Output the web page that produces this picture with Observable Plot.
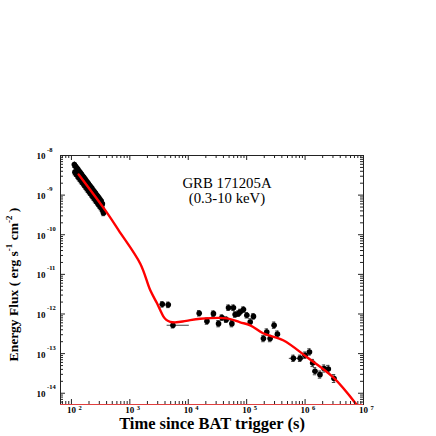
<!DOCTYPE html>
<html><head><meta charset="utf-8">
<script src="https://cdn.jsdelivr.net/npm/d3@7"></script>
<script src="https://cdn.jsdelivr.net/npm/@observablehq/plot@0.6"></script>
<style>body{margin:0;background:#fff}</style>
</head><body><div id="chart"></div>
<script>
// Early (WT) data cluster: time (s), flux (erg s^-1 cm^-2)
const clusterT = [112.2,114.8,117.5,120.2,123.0,125.9,128.8,131.8,134.9,138.0,141.3,144.5,147.9,151.4,154.9,158.5,162.2,166.0,169.8,173.8,177.8,182.0,186.2,190.5,195.0,199.5,204.2,208.9,213.8,218.8,223.9,229.1,234.4,239.9,245.5,251.2,257.0,263.0,269.2,275.4,281.8,288.4,295.1,302.0,309.0,316.2,323.6,331.1,338.8,346.7,354.8,
  125,140,160,185,210,240,270,300,330];
const clusterF = [5.89e-9,3.80e-9,5.37e-9,3.47e-9,4.90e-9,3.16e-9,4.47e-9,2.88e-9,4.07e-9,2.63e-9,3.72e-9,2.40e-9,3.39e-9,2.19e-9,3.09e-9,2.00e-9,2.82e-9,1.82e-9,2.57e-9,1.66e-9,2.34e-9,1.51e-9,2.14e-9,1.38e-9,1.95e-9,1.26e-9,1.78e-9,1.15e-9,1.62e-9,1.05e-9,1.48e-9,9.55e-10,1.35e-9,8.71e-10,1.23e-9,7.94e-10,1.12e-9,7.24e-10,1.02e-9,6.61e-10,9.33e-10,6.03e-10,8.51e-10,5.50e-10,7.76e-10,5.01e-10,7.08e-10,4.57e-10,6.03e-10,3.98e-10,3.55e-10,
  3.8e-9,3.01e-9,2.31e-9,1.73e-9,1.35e-9,1.03e-9,8.2e-10,6.6e-10,5.5e-10];
const clusterYerr = 0.07; // dex

// Late (PC) data
const lateT = [3600,4550,5470,15400,20900,27000,33000,37700,44600,48900,55800,59400,63500,72000,77400,88200,100700,115000,130700,193600,221000,252000,295000,336000,631000,822000,1.0e6,1.19e6,1.35e6,1.48e6,1.8e6,2.11e6,2.5e6,3.13e6];
const lateF = [1.75e-12,1.7e-12,5.2e-13,1.04e-12,6.6e-13,1.02e-12,5.7e-13,8.1e-13,7.2e-13,1.44e-12,5.7e-13,1.44e-12,9.7e-13,1.02e-12,1.12e-12,1.29e-12,9.3e-13,6.3e-13,8.7e-13,2.4e-13,3.5e-13,2.4e-13,5.2e-13,3.1e-13,7.6e-14,7.6e-14,9.1e-14,1.1e-13,5.8e-14,3.6e-14,2.95e-14,4.2e-14,4.1e-14,2.35e-14];
const lateXlo = [0.04,0.04,0.10,0.03,0.03,0.03,0.03,0.03,0.03,0.03,0.03,0.03,0.03,0.03,0.03,0.03,0.03,0.03,0.03,0.03,0.03,0.03,0.03,0.03,0.07,0.05,0.04,0.04,0.04,0.04,0.04,0.04,0.04,0.04];
const lateXhi = [0.04,0.04,0.28,0.03,0.03,0.03,0.03,0.03,0.03,0.03,0.03,0.03,0.03,0.03,0.03,0.03,0.03,0.03,0.03,0.03,0.03,0.03,0.03,0.03,0.07,0.05,0.04,0.04,0.04,0.04,0.04,0.04,0.04,0.04];
const lateYerr = [0.07,0.07,0.07,0.07,0.08,0.07,0.08,0.07,0.07,0.07,0.08,0.07,0.07,0.07,0.07,0.07,0.07,0.08,0.07,0.08,0.08,0.08,0.08,0.08,0.08,0.08,0.08,0.08,0.09,0.09,0.09,0.09,0.09,0.1];

// Model curve
const modelT = [133,381,644,1510,2240,2920,3320,3740,4210,4920,6240,9250,16000,45900,77400,115000,191000,421000,1.08e6,3.01e6,7.74e6];
const modelF = [3.32e-9,4.11e-10,1.29e-10,1.86e-11,3.95e-12,1.86e-12,1.24e-12,8.75e-13,7.13e-13,6.35e-13,6.17e-13,6.73e-13,7.56e-13,7.78e-13,6.17e-13,5.19e-13,3.26e-13,2.17e-13,8.09e-14,2.54e-14,4.99e-15];

// Axes
const xDomain = [65, 1e7];
const yDomain = [5.2e-15, 1e-8];
const xMajor = [1e2,1e3,1e4,1e5,1e6,1e7];
const xExp = ["2","3","4","5","6","7"];
const yMajor = [1e-8,1e-9,1e-10,1e-11,1e-12,1e-13,1e-14];
const yExp = ["-8","-9","-10","-11","-12","-13","-14"];
const titleText = ["GRB 171205A\n(0.3-10 keV)"];
const xLabel = ["Time since BAT trigger (s)"];
const yLabelParts = ["Energy Flux ( erg s", "-1", " cm", "-2", " )"];

const W = 436, H = 436, mL = 60, mR = 73, mT = 155, mB = 32;
const pw = W - mL - mR, ph = H - mT - mB;
const minorOf = (majors, lo, hi) => majors.flatMap(d => d3.range(2, 10).map(k => k * d)).filter(v => v > lo && v < hi);
const xMinor = minorOf([10,1e2,1e3,1e4,1e5,1e6], xDomain[0], xDomain[1]);
const yMinor = minorOf([1e-15,1e-14,1e-13,1e-12,1e-11,1e-10,1e-9], yDomain[0], yDomain[1]);

const cluster = clusterT.map((t, i) => ({t, f: clusterF[i]}));
const late = lateT.map((t, i) => ({t, f: lateF[i], xl: lateXlo[i], xh: lateXhi[i], ye: lateYerr[i]}));
const model = modelT.map((t, i) => ({t, f: modelF[i]}));

const font = "'Liberation Serif', 'Times New Roman', serif";
const ebar = "#444";
const cap = 1.07;

const plot = Plot.plot({
  width: W, height: H, marginLeft: mL, marginRight: mR, marginTop: mT, marginBottom: mB,
  style: {background: "white", fontFamily: font, overflow: "visible"},
  x: {type: "log", domain: xDomain, axis: null},
  y: {type: "log", domain: yDomain, axis: null},
  marks: [
    // cluster error bars
    Plot.ruleX(cluster, {x: "t", y1: d => d.f / 10 ** clusterYerr, y2: d => d.f * 10 ** clusterYerr, stroke: ebar, strokeWidth: 1}),
    Plot.ruleY(cluster, {y: d => d.f / 10 ** clusterYerr, x1: d => d.t / cap, x2: d => d.t * cap, stroke: ebar}),
    Plot.dot(cluster, {x: "t", y: "f", r: 2.8, fill: "black"}),
    // late error bars
    Plot.ruleX(late, {x: "t", y1: d => d.f / 10 ** d.ye, y2: d => d.f * 10 ** d.ye, stroke: ebar, strokeWidth: 1}),
    Plot.ruleY(late, {y: "f", x1: d => d.t / 10 ** d.xl, x2: d => d.t * 10 ** d.xh, stroke: ebar, strokeWidth: 1}),
    Plot.ruleY(late, {y: d => d.f / 10 ** d.ye, x1: d => d.t / cap, x2: d => d.t * cap, stroke: ebar}),
    Plot.ruleY(late, {y: d => d.f * 10 ** d.ye, x1: d => d.t / cap, x2: d => d.t * cap, stroke: ebar}),
    Plot.dot(late, {x: "t", y: "f", r: 2.8, fill: "black"}),
    // model
    Plot.line(model, {x: "t", y: "f", stroke: "#ff0000", strokeWidth: 2.4, curve: "catmull-rom", clip: true}),
    // frame
    Plot.frame({stroke: "#222", strokeWidth: 1}),
    Plot.ruleY([yDomain[0]], {stroke: "#e04040", strokeWidth: 1}),
    // ticks
    Plot.tickX(xMajor, {x: d => d, insetTop: ph - 5, stroke: "#222"}),
    Plot.tickX(xMinor, {x: d => d, insetTop: ph - 3, stroke: "#222"}),
    Plot.tickX(xMajor, {x: d => d, insetBottom: ph - 5, stroke: "#222"}),
    Plot.tickX(xMinor, {x: d => d, insetBottom: ph - 3, stroke: "#222"}),
    Plot.tickY(yMajor, {y: d => d, insetRight: pw - 5, stroke: "#222"}),
    Plot.tickY(yMinor, {y: d => d, insetRight: pw - 3, stroke: "#222"}),
    Plot.tickY(yMajor, {y: d => d, insetLeft: pw - 5, stroke: "#222"}),
    Plot.tickY(yMinor, {y: d => d, insetLeft: pw - 3, stroke: "#222"}),
    // tick labels
    Plot.text(xMajor, {x: d => d, text: () => "10", frameAnchor: "bottom", dy: 8, fontSize: 9, fontWeight: "bold", fill: "black"}),
    Plot.text(xMajor, {x: d => d, text: (d, i) => xExp[i], frameAnchor: "bottom", dx: 7, dy: 5, textAnchor: "start", fontSize: 6.5, fontWeight: "bold", fill: "black"}),
    Plot.text(yMajor, {y: d => d, text: () => "10", frameAnchor: "left", dx: -15, dy: 1, textAnchor: "end", fontSize: 9, fontWeight: "bold", fill: "black"}),
    Plot.text(yMajor, {y: d => d, text: (d, i) => yExp[i], frameAnchor: "left", dx: -13.5, dy: -6, textAnchor: "start", fontSize: 6.5, fontWeight: "bold", fill: "black"}),
    // title
    Plot.text(titleText, {text: d => d, frameAnchor: "top", dx: 15, dy: 21, fontSize: 14.8, lineHeight: 1.05, fill: "black"}),
    // x label
    Plot.text(xLabel, {text: d => d, frameAnchor: "bottom", dy: 24, fontSize: 16.5, fontWeight: "bold", fill: "black"})
  ]
});

const svg = d3.select(plot);
const lab = svg.append("text")
  .attr("transform", "translate(15," + (mT + ph / 2 + 5) + ") rotate(-90)")
  .attr("text-anchor", "middle").attr("dominant-baseline", "middle")
  .attr("font-family", font).attr("font-size", 13.5).attr("font-weight", "bold").attr("fill", "black");
yLabelParts.forEach((p, i) => {
  const sup = i % 2 === 1;
  lab.append("tspan").attr("dy", sup ? -5 : (i ? 5 : 0)).attr("font-size", sup ? 9 : 13.5).text(p);
});
document.getElementById("chart").appendChild(plot);
</script>
</body></html>
